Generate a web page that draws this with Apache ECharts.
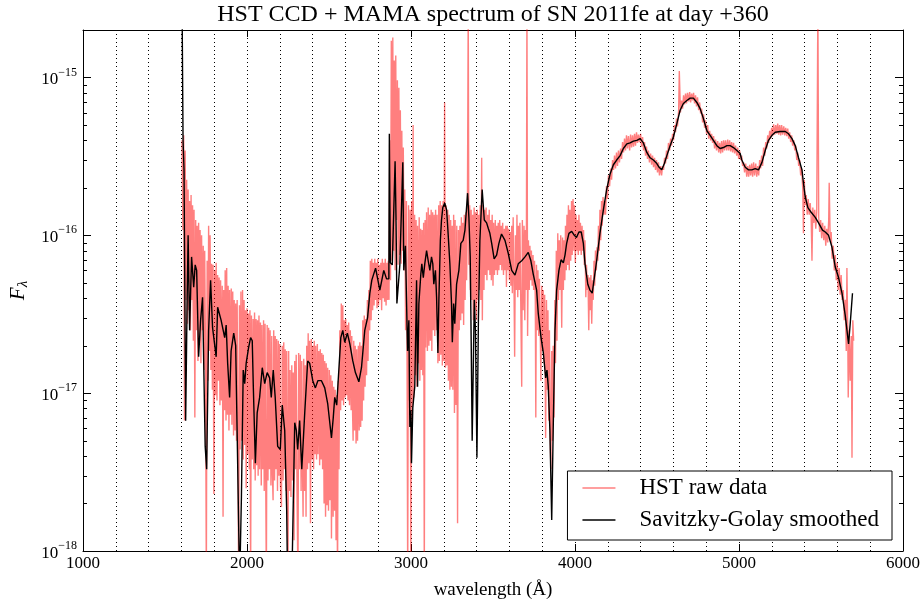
<!DOCTYPE html>
<html><head><meta charset="utf-8">
<script src="https://cdn.jsdelivr.net/npm/echarts@6/dist/echarts.min.js"></script>
<style>html,body{margin:0;padding:0;background:#fff}#c{width:923px;height:603px}</style>
</head><body><div id="c"></div>
<script>
const titleText = 'HST CCD + MAMA spectrum of SN 2011fe at day +360';
const xName = 'wavelength (\u00C5)';
const xTicks = [1000, 2000, 3000, 4000, 5000, 6000];
const yDecades = [1e-18, 1e-17, 1e-16, 1e-15];
const yMin = 1e-18, yMax = 2e-15;
const seriesNames = ['HST raw data', 'Savitzky-Golay smoothed'];

// HST raw data
const rawWave = [
1604,1609,1614,1619,1623,1628,1632,1637,1641,1646,1650,1655,1659,1664,1668,1673,1677,1682,1687,1692,1696,1701,1705,1710,1714,1719,1723,1728,1733,1738,1742,1747,1752,1757,1762,1766,1771,1775,1780,1784,1789,1793,1798,1803,1808,1812,1817,1821,1826,1830,1835,1839,1844,1849,1854,1858,1863,1867,1872,1876,1881,1885,1890,1894,1899,1904,1908,1913,1918,1922,1927,1931,1936,1940,1945,1949,1954,1958,1963,1968,1973,1977,1982,1986,1991,1995,2000,2004,2009,2014,2018,2022,2027,2032,2037,2041,2046,2050,2055,2059,2064,2068,2073,2077,2082,2087,2091,2096,2101,2105,2110,2114,2118,2123,2128,2132,2137,2141,2146,2151,2155,2159,2163,2168,2172,2177,2181,2186,2191,2195,2200,2204,2210,2215,2220,2224,2229,2233,2238,2242,2247,2250,2254,2259,
2263,2268,2273,2278,2282,2287,2291,2296,2300,2305,2311,2315,2320,2325,2330,2334,2339,2342,2346,2351,2355,2360,2364,2369,2373,2378,2382,2387,2392,2397,2401,2406,2410,2415,2419,2424,2429,2433,2438,2443,2447,2452,2456,2461,2465,2470,2474,2479,2483,2488,2492,2497,2502,2506,2511,2515,2520,2525,2529,2534,2538,2543,2547,2552,2556,2561,2566,2571,2575,2580,2584,2589,2593,2598,2602,2607,2611,2616,2620,2625,2630,2635,2639,2644,2647,2651,2656,2660,2665,2669,2674,2679,2684,2688,2693,2697,2702,2706,2711,2715,2720,2724,2729,2734,2738,2743,2748,2752,2757,2761,2766,2770,2775,2779,2784,2788,2793,2797,2802,2807,2812,2816,2821,2825,2830,2834,2839,2843,2848,2853,2857,2862,
2866,2870,2875,2880,2885,2889,2894,2898,2903,2907,2912,2917,2921,2926,2931,2935,2940,2944,2949,2953,2958,2962,2967,2972,2976,2980,2985,2990,2995,2999,3004,3008,3013,3017,3022,3027,3031,3036,3040,3045,3050,3054,3059,3063,3068,3072,3077,3081,3086,3090,3095,3100,3105,3109,3114,3118,3123,3127,3132,3136,3141,3145,3150,3155,3159,3164,3169,3173,3178,3182,3187,3191,3196,3200,3205,3210,3214,3219,3224,3228,3233,3237,3242,3246,3251,3255,3260,3265,3269,3274,3279,3284,3289,3294,3298,3303,3307,3312,3316,3321,3325,3330,3335,3339,3344,3349,3353,3358,3362,3367,3371,3376,3380,3385,3390,3394,3399,3404,3408,3413,3417,3422,3426,3431,3435,3440,3445,3449,3454,3458,3463,3468,3472,3477,3481,3486,3490,3495,3500,3504,3509,3514,3518,3523,3527,3532,3536,3541,3545,3550,3554,3559,3564,3569,3573,3578,
3582,3587,3591,3596,3600,3605,3609,3614,3618,3623,3628,3632,3637,3642,3646,3651,3655,3660,3664,3669,3675,3679,3684,3689,3694,3698,3703,3707,3711,3716,3721,3725,3730,3734,3739,3744,3748,3753,3758,3761,3765,3770,3774,3779,3783,3788,3792,3797,3802,3806,3811,3815,3821,3826,3831,3835,3840,3844,3849,3853,3858,3863,3867,3872,3877,3881,3886,3890,3895,3899,3904,3908,3913,3919,3924,3929,3933,3938,3942,3947,3951,3956,3960,3965,3969,3974,3979,3983,3988,3993,3997,4002,4006,4011,4015,4020,4024,4029,4033,4038,4043,4047,4052,4057,4061,4066,4070,4075,4079,4084,4088,4093,4097,4102,4107,4111,4116,4120,4125,4130,4134,4139,4143,4148,4152,4157,4162,4166,4171,4176,
4180,4186,4192,4198,4204,4211,4217,4223,4229,4235,4241,4247,4253,4259,4265,4271,4278,4284,4290,4296,4302,4308,4314,4320,4326,4333,4339,4345,4351,4357,4363,4369,4375,4381,4387,4393,4400,4406,4412,4418,4424,4430,4436,4442,4448,4454,4461,4467,4473,4479,4485,4491,4497,4503,4509,4515,4522,4528,4534,4540,4546,4552,4558,4564,4570,4577,4583,4589,4595,4601,4607,4613,4619,4625,4632,4636,4643,4650,4656,4662,4668,4674,4680,4686,4693,4699,4705,4711,4717,4723,4729,4735,4741,4747,4754,4760,4766,4772,4778,4784,4790,4796,4802,4809,4815,4821,4827,4833,4839,4845,4851,4857,4863,4870,4876,4882,4888,4894,4900,4906,4912,4918,4925,4931,4937,4943,4949,4955,4961,4967,4973,4979,4986,4992,4998,5004,5010,5016,5022,5028,5034,5041,5047,5053,5059,5065,5071,5077,5083,5089,5095,5102,5108,5114,5120,5126,5132,5138,5144,5150,5157,5163,5169,5175,5181,5187,5193,5199,5205,5211,5218,5224,5230,5236,5242,5248,5254,5260,5266,5273,5279,5285,5291,5297,5303,5309,5315,5321,5327,5334,5340,5346,5352,5358,5364,5370,5376,5382,5389,5393,5398,5404,5410,5416,5422,5428,5434,5440,5445,5450,5456,5462,5468,5474,5481,5486,5492,5498,5504,5510,5517,5523,5529,5535,5541,5547,5550,5556,5562,5568,5575,5581,5587,5593,5599,5605,5611,5617,5623,5629,5636,5642,5648,5654,5658,5663,5666,5672,5678,5685,5689,5694,5699
];
const rawFlux = [
4.0e-16,1.08e-16,4.3e-16,6.7e-18,3.45e-16,3.9e-17,2.25e-16,2.75e-17,1.95e-16,3.35e-17,1.65e-16,2.5e-17,1.8e-16,3.9e-17,1.55e-16,2.15e-17,1.45e-16,7.0e-18,1.25e-16,2.5e-17,1.15e-16,1.6e-17,1.2e-16,2.15e-17,1.08e-16,1.55e-17,1.0e-16,2.5e-17,8.6e-17,1.4e-17,8.0e-17,1.85e-17,6e-19,6.9e-17,1.2e-17,1.15e-16,1.85e-17,1.0e-16,1.4e-17,6.6e-17,1.05e-17,6.5e-17,2.3e-18,6.0e-17,9.7e-18,6.7e-17,9.0e-18,5.6e-17,1.2e-17,5.4e-17,8.4e-18,5.2e-17,9.0e-18,4.8e-17,1.65e-18,4.5e-17,7.8e-18,6.0e-17,6.7e-18,6.2e-17,7.3e-18,4.8e-17,5.8e-18,4.5e-17,7.3e-18,4.6e-17,6.3e-18,4.4e-17,5.4e-18,3.9e-17,5.8e-18,3.7e-17,5.0e-18,3.9e-17,3.8e-18,6e-19,3.6e-17,4.4e-18,4.4e-17,5.0e-18,4.5e-17,3.8e-18,3.9e-17,4.7e-18,3.35e-17,2.5e-18,3.45e-17,4.1e-18,3.2e-17,3.3e-18,3.35e-17,6e-19,3.1e-17,3.8e-18,2.95e-17,3.3e-18,3.25e-17,2.8e-18,2.95e-17,3.5e-18,2.9e-17,3.0e-18,3.1e-17,3.3e-18,2.8e-17,2.6e-18,2.7e-17,3.3e-18,2.9e-17,2.4e-18,2.75e-17,3.0e-18,6e-19,2.7e-17,2.8e-18,2.6e-17,3.3e-18,2.5e-17,2.6e-18,2.3e-17,3.0e-18,2.1e-18,2.5e-17,2.8e-18,2.3e-17,3.3e-18,2.2e-17,2.4e-18,2.15e-17,3.0e-18,2.05e-17,2.6e-18,1.9e-18,2.0e-17,2.8e-18,2.1e-17,3.3e-18,1.9e-17,2.4e-18,1.85e-17,2.8e-18,6e-19,1.85e-17,2.4e-18,
1.4e-17,2.2e-18,1.5e-17,2.8e-18,1.35e-17,1.17e-18,1.6e-17,3.3e-18,1.75e-17,2.4e-18,6e-19,1.8e-17,3.3e-18,1.75e-17,2.4e-18,1.6e-17,3.0e-18,1.65e-18,1.65e-17,2.4e-18,1.5e-17,1.65e-18,2.0e-17,3.3e-18,2.4e-17,3.6e-18,2.15e-17,1.5e-18,2.2e-17,3.8e-18,2.0e-17,3.3e-18,2.15e-17,4.1e-18,2.0e-17,3.8e-18,2.05e-17,4.1e-18,1.85e-17,3.5e-18,1.9e-17,3.8e-18,1.8e-17,3.3e-18,1.75e-17,2.0e-18,1.6e-17,1.65e-18,1.55e-17,1.95e-18,1.45e-17,1.8e-18,1.4e-17,2.1e-18,1.3e-17,1.2e-18,1.2e-17,1.65e-18,1.1e-17,1.8e-18,1.05e-17,1.17e-18,9.7e-18,6e-19,1.2e-17,3.3e-18,2.5e-17,7.8e-18,3.7e-17,9.0e-18,3.6e-17,8.4e-18,2.9e-17,9.4e-18,2.95e-17,9.7e-18,2.7e-17,9.0e-18,2.8e-17,8.4e-18,2.5e-17,7.8e-18,2.3e-17,7.3e-18,5.0e-18,2.15e-17,5.8e-18,2.0e-17,4.8e-18,1.9e-17,5.0e-18,2.0e-17,5.8e-18,2.1e-17,6.1e-18,2.0e-17,6.7e-18,2.9e-17,9.0e-18,3.1e-17,1.1e-17,2.95e-17,1.3e-17,3.9e-17,1.6e-17,4.5e-17,2.5e-17,6.9e-17,2.9e-17,7.1e-17,3.35e-17,6.7e-17,3.6e-17,7.1e-17,3.9e-17,6.7e-17,3.45e-17,7.1e-17,3.6e-17,6.5e-17,3.9e-17,6.7e-17,3.35e-17,7.1e-17,4.0e-17,6.7e-17,3.8e-17,7.1e-17,3.6e-17,6.7e-17,3.9e-17,6.9e-17,
3.9e-17,4.0e-16,5.2e-17,1.71e-15,6.9e-17,1.79e-15,8.0e-17,1.28e-15,6.0e-17,1.38e-15,1.25e-16,9.6e-16,6.5e-17,8.6e-16,7.5e-17,6.2e-16,6.6e-17,4.6e-16,8.0e-17,3.6e-16,6.0e-17,1.95e-16,2.5e-17,1.65e-16,1.6e-17,6e-19,1.55e-16,9.0e-18,1.45e-16,6e-19,1.65e-16,6.7e-18,5.0e-16,9.4e-18,1.35e-16,1.3e-17,1.25e-16,1.1e-17,1.15e-16,1.55e-17,1.3e-16,1.2e-17,1.1e-16,1.4e-17,1.08e-16,1.3e-17,1.2e-16,6e-19,1.25e-16,1.95e-17,1.4e-16,1.85e-17,1.5e-16,2.0e-17,1.35e-16,2.15e-17,1.45e-16,1.85e-17,1.4e-16,2.5e-17,1.35e-16,2.3e-17,1.45e-16,2.5e-17,1.35e-16,1.55e-17,1.55e-16,1.6e-17,1.65e-16,1.75e-17,1.55e-16,1.5e-17,1.65e-16,1.6e-17,6.95e-16,1.45e-17,1.55e-16,1.5e-17,1.45e-16,1.2e-17,1.35e-16,1.05e-17,1.25e-16,1.1e-17,1.15e-16,1.05e-17,1.35e-16,7.5e-18,1.25e-16,8.4e-18,1.15e-16,1.5e-18,1.08e-16,2.5e-17,1.15e-16,2.9e-17,1.3e-16,3.2e-17,1.2e-16,2.7e-17,1.35e-16,3.9e-17,1.4e-16,5.2e-17,1.45e-16,3e-15,6.5e-17,1.55e-16,4.5e-17,1.45e-16,3.9e-17,1.35e-16,2.9e-17,1.5e-16,3.35e-17,1.4e-16,2.9e-17,1.45e-16,3.9e-17,1.35e-16,4.5e-17,1.55e-16,3.9e-17,3.1e-16,2.9e-17,1.55e-16,4.5e-17,1.45e-16,5.6e-17,1.5e-16,5.2e-17,1.35e-16,6.0e-17,1.45e-16,5.6e-17,1.25e-16,5.2e-17,1.35e-16,4.8e-17,1.2e-16,5.6e-17,1.25e-16,6.0e-17,1.15e-16,5.6e-17,1.2e-16,6.0e-17,1.25e-16,6.5e-17,1.15e-16,6.0e-17,1.2e-16,5.6e-17,1.1e-16,6.0e-17,1.15e-16,
4.7e-17,1.15e-16,6.0e-17,1.1e-16,5.2e-17,1.05e-16,4.8e-17,1.15e-16,4.3e-17,1.3e-16,4.8e-17,1.7e-17,1.0e-16,4.5e-17,1.35e-16,4.05e-17,1.15e-16,4.5e-17,1.2e-16,3.9e-17,1.1e-17,1.25e-16,3.35e-17,1.15e-16,2.9e-17,1.08e-16,4.5e-17,3e-15,2.3e-17,9.3e-17,4.5e-17,8.6e-17,5.2e-17,8.0e-17,4.8e-17,7.5e-17,4.5e-17,6.9e-17,3.9e-17,7.0e-18,6.5e-17,2.5e-17,6.0e-17,2.3e-17,5.3e-17,2.5e-17,1.2e-17,4.8e-17,1.85e-17,4.5e-17,1.55e-17,4.2e-17,5.2e-18,3.9e-17,1.05e-17,3.35e-17,6.7e-18,2.5e-17,5.0e-18,3.3e-18,1.85e-17,5.0e-18,2.0e-17,7.0e-18,3.9e-17,1.55e-17,8.0e-17,2.15e-17,1.03e-16,3.9e-17,9.3e-17,4.5e-17,1.0e-16,2.6e-17,9.7e-17,4.5e-17,9.3e-17,5.2e-17,1.15e-16,6.0e-17,1.35e-16,6.5e-17,1.55e-16,6.0e-17,1.45e-16,6.9e-17,1.65e-16,7.5e-17,1.7e-16,8.0e-17,1.55e-16,6.7e-17,1.35e-16,8.0e-17,1.25e-16,7.5e-17,1.35e-16,8.0e-17,1.2e-16,7.5e-17,1.15e-16,8.0e-17,1.08e-16,6.5e-17,9.3e-17,4.05e-17,6.5e-17,4.5e-17,5.6e-17,2.5e-17,5.4e-17,3.35e-17,5.6e-17,2.75e-17,5.2e-17,3.9e-17,6.9e-17,4.8e-17,8.0e-17,6.0e-17,8.4e-17,6.9e-17,1.15e-16,8.0e-17,1.45e-16,9.3e-17,1.65e-16,1.15e-16,1.75e-16,1.35e-16,
1.65e-16,1.35e-16,2.05e-16,1.7e-16,2.4e-16,2.05e-16,2.65e-16,2.25e-16,3.0e-16,2.6e-16,3.2e-16,2.65e-16,3.35e-16,2.75e-16,3.45e-16,2.9e-16,3.55e-16,3.05e-16,3.9e-16,3.35e-16,4.1e-16,3.45e-16,4.3e-16,3.55e-16,4.25e-16,3.45e-16,4.35e-16,3.6e-16,4.3e-16,3.65e-16,4.4e-16,3.7e-16,4.5e-16,3.85e-16,4.35e-16,3.9e-16,4.4e-16,3.65e-16,4.2e-16,3.45e-16,3.9e-16,3.2e-16,3.65e-16,3.05e-16,3.45e-16,2.9e-16,3.3e-16,2.8e-16,3.2e-16,2.7e-16,3.1e-16,2.6e-16,3.0e-16,2.5e-16,2.9e-16,2.4e-16,2.75e-16,2.4e-16,2.75e-16,2.6e-16,3.1e-16,2.85e-16,3.45e-16,3.05e-16,3.85e-16,3.45e-16,4.1e-16,3.7e-16,4.4e-16,4.0e-16,5.0e-16,4.5e-16,5.5e-16,4.9e-16,6.2e-16,1.1e-15,6.0e-16,7.15e-16,6.35e-16,7.7e-16,6.75e-16,7.9e-16,6.85e-16,8.0e-16,7.05e-16,8.1e-16,6.95e-16,7.9e-16,7.15e-16,8.0e-16,6.85e-16,7.7e-16,6.55e-16,7.5e-16,6.2e-16,6.95e-16,5.9e-16,6.35e-16,5.2e-16,5.85e-16,4.8e-16,5.35e-16,4.4e-16,5.0e-16,4.1e-16,4.6e-16,4.0e-16,4.4e-16,3.85e-16,4.25e-16,3.55e-16,4.05e-16,3.45e-16,3.95e-16,3.35e-16,3.85e-16,3.3e-16,3.95e-16,3.35e-16,4.0e-16,3.45e-16,4.0e-16,3.45e-16,4.05e-16,3.45e-16,4.0e-16,3.4e-16,3.9e-16,3.35e-16,3.85e-16,3.3e-16,3.7e-16,3.2e-16,3.6e-16,3.05e-16,3.45e-16,3.0e-16,3.2e-16,2.75e-16,2.9e-16,2.5e-16,2.85e-16,2.35e-16,2.75e-16,2.35e-16,2.8e-16,2.4e-16,2.85e-16,2.35e-16,2.9e-16,2.4e-16,2.85e-16,2.35e-16,2.75e-16,2.4e-16,3.0e-16,2.65e-16,3.2e-16,2.75e-16,3.6e-16,3.2e-16,3.9e-16,3.55e-16,4.3e-16,3.85e-16,4.6e-16,4.1e-16,4.8e-16,4.25e-16,5.05e-16,4.35e-16,5.0e-16,4.4e-16,5.1e-16,4.35e-16,5.0e-16,4.3e-16,5.0e-16,4.35e-16,4.9e-16,4.3e-16,4.8e-16,4.25e-16,4.75e-16,4.1e-16,4.5e-16,3.9e-16,4.3e-16,3.7e-16,4.0e-16,3.45e-16,3.7e-16,3.0e-16,3.35e-16,2.75e-16,3.0e-16,2.4e-16,2.65e-16,1.95e-16,1.03e-16,2.25e-16,1.55e-16,1.8e-16,1.35e-16,1.7e-16,1.35e-16,1.6e-16,1.3e-16,6.9e-17,1.5e-16,1.2e-16,1.45e-16,1.1e-16,1.4e-16,3e-15,1.3e-16,1.05e-16,1.25e-16,9.6e-17,1.2e-16,9.3e-17,1.15e-16,8.6e-17,1.1e-16,9.0e-17,1.25e-16,2.15e-16,9.3e-17,1.05e-16,7.1e-17,8.6e-17,6.0e-17,7.5e-17,5.2e-17,6.7e-17,4.5e-17,6.2e-17,4.2e-17,5.6e-17,3.9e-17,4.5e-17,2.9e-17,3.9e-17,1.85e-17,6.2e-17,2.5e-17,9.4e-18,2.5e-17,1.2e-17,2.3e-17,3.9e-18,2.9e-17,2.15e-17
];

// Savitzky-Golay smoothed curve
const smoothWave = [
1604,1610,1616,1626,1635,1641,1650,1662,1675,1684,1693,1705,1717,1729,1745,1754,1766,1778,1790,1812,1821,1842,1864,1873,1882,1894,1903,1919,1931,1943,1955,1966,1977,1986,1995,2010,2022,2032,2038,2051,2062,2077,2093,2108,2123,2138,2148,2160,2172,2187,2203,2215,2230,2242,2248,2273,2291,2301,2309,2321,2334,2352,2370,2382,2401,2417,2432,2454,2474,2492,2515,2526,2535,2547,2559,2572,2584,2596,2612,2627,2645,2661,2682,2698,2718,2735,2749,2761,2784,2810,2834,2851,2865,2868,2874,2886,2903,2909,2914,2932,2950,2956,2966,2979,2987,2993,2999,3003,3011,3023,3034,3040,3048,3060,3066,3075,3084,3095,3105,3115,3125,3133,3139,3149,3156,3164,3170,3179,3186,3194,3206,3217,3225,3237,3247,3252,3260,3267,3278,3292,3304,3318,3329,3345,3353,3361,3367,3373,3386,3393,3402,3411,3420,3434,3447,3461,3472,3481,3492,3507,3522,3536,3552,3573,3593,3614,3634,3654,3675,3695,3715,3731,3745,3766,3776,3793,3807,3814,3821,3829,3837,3847,3858,3867,3878,3888,3902,3915,3929,3939,3949,3963,3980,3996,4009,4024,4038,4051,4061,4078,4091,4105,4118,4132,4152,4173,4193,4214,4234,4254,4275,4295,4316,4336,4356,4377,4397,4417,4438,4458,4478,4499,4513,4529,4545,4560,4580,4600,4621,4641,4661,4682,4702,4722,4743,4763,4783,4804,4824,4844,4865,4885,4905,4926,4946,4966,4987,5007,5017,5038,5058,5078,5099,5119,5140,5160,5180,5201,5221,5251,5282,5302,5323,5343,5363,5384,5394,5404,5420,5440,5465,5485,5509,5526,5546,5567,5587,5607,5628,5648,5668,5678,5692
];
const smoothFlux = [
3e-15,4.0e-16,2.6e-16,6.7e-18,3.9e-17,1.0e-16,2.5e-17,7.3e-17,4.7e-17,6.5e-17,6.0e-17,1.7e-17,2.9e-17,4.05e-17,4.6e-18,3.3e-18,2.5e-17,5.2e-17,2.6e-17,1.7e-17,3.5e-17,2.9e-17,2.25e-17,2.7e-17,1.55e-17,9.4e-18,1.85e-17,2.4e-17,2.0e-17,3.6e-18,6e-19,2.2e-18,1.4e-17,1.15e-17,1.55e-17,1.95e-17,2.25e-17,2.15e-17,1.15e-17,3.6e-18,7.5e-18,9.4e-18,1.45e-17,1.15e-17,1.35e-17,1.25e-17,9.4e-18,1.4e-17,9.4e-18,4.6e-18,4.4e-18,8.4e-18,5.8e-18,1.8e-18,6e-19,6e-19,6.5e-18,5.8e-18,4.4e-18,6.7e-18,3.3e-18,7.5e-18,1.6e-17,1.55e-17,1.2e-17,1.08e-17,1.2e-17,1.2e-17,1.08e-17,8.6e-18,5.2e-18,7.0e-18,9.4e-18,8.4e-18,8.6e-18,2.25e-17,2.5e-17,2.1e-17,2.4e-17,2.05e-17,1.6e-17,1.35e-17,1.18e-17,1.45e-17,2.5e-17,3.0e-17,4.3e-17,5.2e-17,6.2e-17,4.5e-17,6.0e-17,5.3e-17,5.3e-17,4.4e-16,6.7e-17,6.5e-17,2.95e-16,1.2e-16,3.7e-17,6.5e-17,2.9e-16,6.0e-17,8.6e-17,1.85e-17,2.9e-17,6.1e-18,7.8e-18,3.6e-18,8.1e-18,1.1e-17,5.2e-17,1.1e-17,3.7e-17,5.7e-17,6.6e-17,5.4e-17,6.6e-17,8.0e-17,6.9e-17,6.0e-17,7.3e-17,6.6e-17,4.9e-17,6.0e-17,4.05e-17,1.8e-17,3.9e-17,9.3e-17,1.25e-16,1.5e-16,1.6e-16,1.45e-16,1.08e-16,6.6e-17,3.7e-17,2.1e-17,3.7e-17,2.75e-17,4.9e-17,6.0e-17,8.9e-17,9.3e-17,1.08e-16,1.85e-16,1.3e-16,7.3e-17,2.15e-17,5.0e-18,3.9e-17,2.5e-17,3.9e-18,2.9e-17,9.3e-17,1.95e-16,1.25e-16,1.2e-16,1.1e-16,1.03e-16,8.9e-17,7.1e-17,7.5e-17,8.9e-17,1.02e-16,9.3e-17,7.7e-17,6.0e-17,5.6e-17,6.6e-17,6.9e-17,7.3e-17,7.8e-17,6.9e-17,5.7e-17,4.5e-17,3.2e-17,2.25e-17,1.8e-17,1.85e-17,1.25e-17,1.4e-17,1.1e-17,5.8e-18,1.57e-18,5.8e-18,2.5e-17,4.5e-17,6.0e-17,7.0e-17,6.7e-17,7.5e-17,8.9e-17,1.03e-16,1.06e-16,1.0e-16,9.7e-17,1.05e-16,1.05e-16,8.9e-17,6.6e-17,4.9e-17,4.5e-17,4.3e-17,5.4e-17,6.9e-17,1.03e-16,1.45e-16,1.95e-16,2.45e-16,2.8e-16,3.0e-16,3.2e-16,3.55e-16,3.8e-16,3.85e-16,3.95e-16,4.0e-16,4.1e-16,3.85e-16,3.35e-16,3.1e-16,3.0e-16,2.85e-16,2.7e-16,2.6e-16,2.85e-16,3.2e-16,3.7e-16,4.2e-16,5.1e-16,6.2e-16,6.85e-16,7.15e-16,7.4e-16,7.4e-16,6.95e-16,6.35e-16,5.5e-16,4.6e-16,4.3e-16,4.0e-16,3.7e-16,3.55e-16,3.6e-16,3.7e-16,3.7e-16,3.6e-16,3.45e-16,3.3e-16,3.0e-16,2.7e-16,2.6e-16,2.6e-16,2.65e-16,2.6e-16,2.9e-16,3.45e-16,4.0e-16,4.3e-16,4.5e-16,4.55e-16,4.55e-16,4.4e-16,4.1e-16,3.7e-16,3.1e-16,2.6e-16,2.1e-16,1.75e-16,1.5e-16,1.4e-16,1.3e-16,1.2e-16,1.08e-16,1.05e-16,1.0e-16,8.4e-17,6.3e-17,5.4e-17,4.3e-17,3.1e-17,2.05e-17,2.75e-17,4.3e-17
];

const FONT = 'Liberation Serif';
const chart = echarts.init(document.getElementById('c'), null, {renderer: 'canvas'});
const zip = (a, b) => a.map((v, i) => [v, b[i]]);
const decadeLabel = v => {
  const e = Math.log10(v), r = Math.round(e);
  if (Math.abs(e - r) > 1e-6) return '';
  return '{b|10}{s|\u2212' + (-r) + '}';
};
const frameLine = {show: true, onZero: false, lineStyle: {color: '#000', width: 1}};
const dotted = {color: '#000', width: 1, type: [1, 3]};

chart.setOption({
  animation: false,
  backgroundColor: '#fff',
  title: {
    text: titleText, left: 493, top: 3, padding: 0, textAlign: 'center',
    textStyle: {fontFamily: FONT, fontSize: 24, fontWeight: 'normal', color: '#000'}
  },
  grid: {left: 83, right: 20, top: 30, bottom: 52, containLabel: false, outerBoundsMode: 'none'},
  legend: {
    data: seriesNames, orient: 'vertical', right: 31, bottom: 63, icon: 'rect',
    padding: [5, 13, 8, 15], itemGap: 8, itemWidth: 33, itemHeight: 1.5,
    borderColor: '#000', borderWidth: 1, borderRadius: 0, backgroundColor: '#fff',
    textStyle: {fontFamily: FONT, fontSize: 23, color: '#000', lineHeight: 24, padding: [0, 0, 0, 19]}
  },
  xAxis: [{
    type: 'value', min: xTicks[0], max: xTicks[xTicks.length - 1], interval: 1000, position: 'bottom',
    axisLine: frameLine,
    axisTick: {show: true, inside: true, length: 7, lineStyle: {color: '#000', width: 1}},
    axisLabel: {fontFamily: FONT, fontSize: 17, color: '#000', margin: 4, formatter: v => String(v)},
    splitLine: {show: true, lineStyle: dotted},
    minorTick: {show: false, splitNumber: 5},
    minorSplitLine: {show: true, lineStyle: dotted},
    name: xName, nameLocation: 'middle', nameGap: 30,
    nameTextStyle: {fontFamily: FONT, fontSize: 19, color: '#000'}
  }, {
    type: 'value', min: xTicks[0], max: xTicks[xTicks.length - 1], interval: 1000, position: 'top',
    axisLine: frameLine,
    axisTick: {show: true, inside: true, length: 7, lineStyle: {color: '#000', width: 1}},
    axisLabel: {show: false}, splitLine: {show: false}
  }],
  yAxis: [{
    type: 'log', logBase: 10, min: yMin, max: yMax, position: 'left',
    axisLine: frameLine,
    axisTick: {show: true, inside: true, length: 8, lineStyle: {color: '#000', width: 1}},
    axisLabel: {
      formatter: decadeLabel, margin: 6, color: '#000',
      rich: {
        b: {fontFamily: FONT, fontSize: 17, lineHeight: 22, verticalAlign: 'bottom', color: '#000'},
        s: {fontFamily: FONT, fontSize: 12, lineHeight: 12, verticalAlign: 'top', color: '#000'}
      }
    },
    splitLine: {show: false},
    name: '{f|F}{l|\u03BB}', nameLocation: 'middle', nameGap: 50, nameRotate: 90,
    nameTextStyle: {
      rich: {
        f: {fontFamily: FONT, fontStyle: 'italic', fontSize: 21, lineHeight: 24, color: '#000'},
        l: {fontFamily: FONT, fontStyle: 'italic', fontSize: 15, lineHeight: 15, verticalAlign: 'bottom', color: '#000'}
      }
    }
  }, {
    type: 'log', logBase: 10, min: yMin, max: yMax, position: 'right',
    axisLine: frameLine,
    axisTick: {show: true, inside: true, length: 8, lineStyle: {color: '#000', width: 1}},
    axisLabel: {show: false}, splitLine: {show: false}
  }],
  series: [{
    name: seriesNames[0], type: 'line', xAxisIndex: 0, yAxisIndex: 0,
    data: zip(rawWave, rawFlux), symbol: 'none', showSymbol: false, clip: true, z: 2,
    lineStyle: {color: 'rgba(255,0,0,0.5)', width: 1.4}, itemStyle: {color: 'rgba(255,0,0,0.5)'}
  }, {
    name: seriesNames[1], type: 'line', xAxisIndex: 0, yAxisIndex: 0,
    data: zip(smoothWave, smoothFlux), symbol: 'none', showSymbol: false, clip: true, z: 3,
    lineStyle: {color: '#000', width: 1.4}, itemStyle: {color: '#000'}
  }]
});

// log-spaced minor ticks (2..9 x decade) on both y spines, placed via the axis scale
const gx0 = chart.convertToPixel({xAxisIndex: 0}, xTicks[0]);
const gx1 = chart.convertToPixel({xAxisIndex: 0}, xTicks[xTicks.length - 1]);
const minorEls = [];
yDecades.forEach(d => {
  for (let m = 2; m <= 9; m++) {
    const v = m * d;
    if (v >= yMax * 0.999) continue;
    const py = Math.round(chart.convertToPixel({yAxisIndex: 0}, v)) + 0.5;
    minorEls.push({type: 'line', silent: true, z: 10, shape: {x1: gx0, y1: py, x2: gx0 + 4, y2: py}, style: {stroke: '#000', lineWidth: 1}});
    minorEls.push({type: 'line', silent: true, z: 10, shape: {x1: gx1 - 4, y1: py, x2: gx1, y2: py}, style: {stroke: '#000', lineWidth: 1}});
  }
});
chart.setOption({graphic: minorEls});
</script>
</body></html>
